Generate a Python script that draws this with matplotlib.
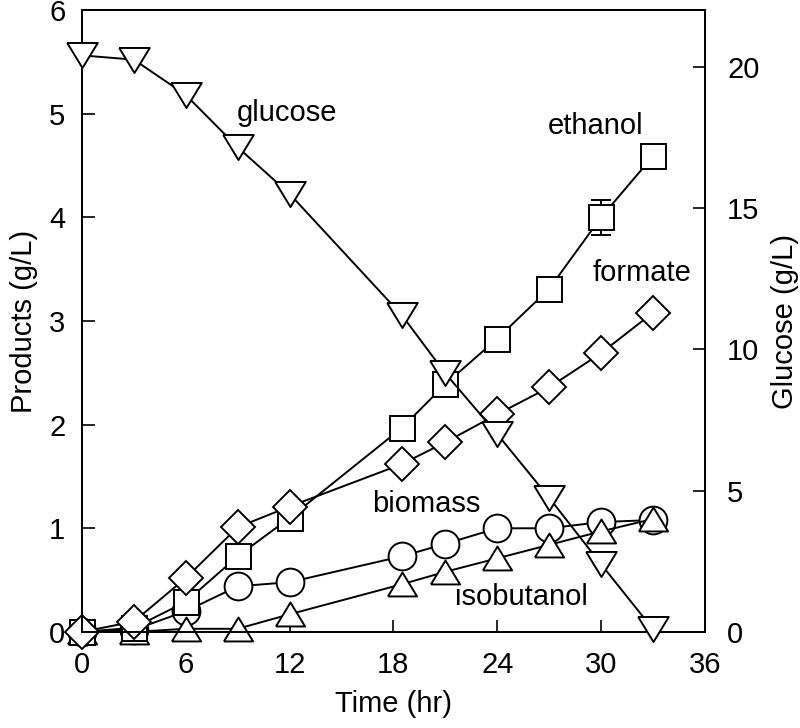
import matplotlib.pyplot as plt

plt.rcParams['font.family'] = ['Liberation Sans', 'DejaVu Sans']

# Data
time = [0, 3, 6, 9, 12, 18.5, 21, 24, 27, 30, 33]
glucose = [20.4, 20.25, 19.0, 17.15, 15.5, 11.2, 9.15, 7.0, 4.75, 2.4, 0.1]
ethanol = [0.0, 0.04, 0.29, 0.73, 1.1, 1.97, 2.39, 2.83, 3.31, 4.0, 4.59]
ethanol_err = [0, 0, 0, 0, 0, 0, 0, 0, 0, 0.17, 0]
formate = [0.0, 0.1, 0.52, 1.01, 1.21, 1.62, 1.83, 2.1, 2.36, 2.69, 3.08]
biomass = [0.0, 0.02, 0.2, 0.44, 0.48, 0.73, 0.85, 1.0, 1.0, 1.06, 1.08]
isobutanol = [0.0, 0.0, 0.03, 0.03, 0.17, 0.46, 0.58, 0.71, 0.84, 0.97, 1.09]

# slightly flattened triangles, like the original figure
tri_up = [(-1, -0.82), (1, -0.82), (0, 0.82), (-1, -0.82)]
tri_down = [(-1, 0.82), (1, 0.82), (0, -0.82), (-1, 0.82)]

fig = plt.figure(figsize=(8, 7.28), dpi=100)
ax = fig.add_axes([0.1025, 0.132, 0.7785, 0.854])

style = dict(color="black", lw=1.4, markerfacecolor="white",
             markeredgecolor="black", markeredgewidth=1.4, clip_on=False)

ax.plot(time, biomass, marker="o", markersize=20, zorder=3, **style)
ax.plot(time, isobutanol, marker=tri_up, markersize=21, zorder=4, **style)
ax.errorbar(time, ethanol, yerr=ethanol_err, marker="s", markersize=18,
            capsize=7, elinewidth=1.4, capthick=1.4, zorder=5, **style)
ax.plot(time, formate, marker="D", markersize=17, zorder=6, **style)

fs = 21
ax.set_xlim(0, 36)
ax.set_ylim(0, 6)
ax.set_xticks(range(0, 37, 6))
ax.set_yticks(range(0, 7))
ax.set_xlabel("Time (hr)", fontsize=fs, labelpad=8)
ax.set_ylabel("Products (g/L)", fontsize=fs, labelpad=8)
ax.tick_params(axis="x", direction="in", length=9, width=1.2, labelsize=fs,
               pad=14, top=False)
ax.tick_params(axis="y", direction="in", length=9, width=1.2, labelsize=fs,
               pad=12, right=False)

ax2 = ax.twinx()
ax2.plot(time, glucose, marker=tri_down, markersize=22, zorder=7, **style)
ax2.set_ylim(0, 22)
ax2.set_yticks(range(0, 21, 5))
ax2.set_ylabel("Glucose (g/L)", fontsize=fs, labelpad=8)
ax2.tick_params(direction="in", length=9, width=1.2, labelsize=fs, pad=16)

for a in (ax, ax2):
    for s in a.spines.values():
        s.set_linewidth(1.4)

# Series labels
ax.text(11.85, 5.01, "glucose", fontsize=fs, ha="center", va="center")
ax.text(29.7, 4.88, "ethanol", fontsize=fs, ha="center", va="center")
ax.text(32.4, 3.46, "formate", fontsize=fs, ha="center", va="center")
ax.text(19.9, 1.23, "biomass", fontsize=fs, ha="center", va="center")
ax.text(25.4, 0.34, "isobutanol", fontsize=fs, ha="center", va="center")

fig.savefig("out.png", dpi=100)
